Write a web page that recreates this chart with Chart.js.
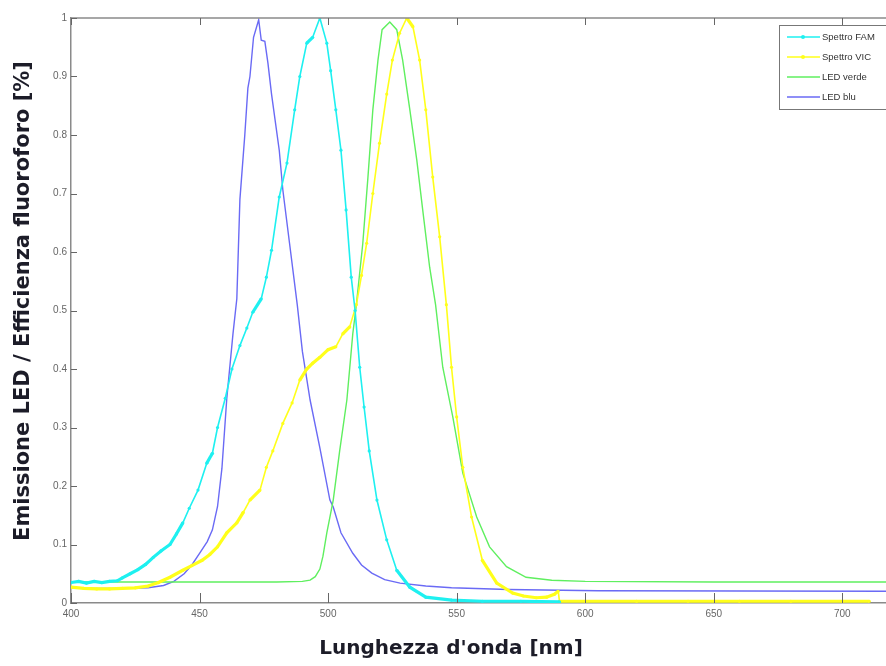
<!DOCTYPE html>
<html>
<head>
<meta charset="utf-8">
<title>Spettri LED / fluorofori</title>
<script src="https://cdn.jsdelivr.net/npm/chart.js@4.4.1/dist/chart.umd.min.js"></script>
<style>
  body { margin: 0; background: #fff; }
  #wrap { width: 886px; height: 666px; }
</style>
</head>
<body>
<div id="wrap"><canvas id="spectra" width="886" height="666"></canvas></div>
<script>
// wavelength (nm) / normalised value pairs, one array per curve
const famNm = [400, 403, 406, 409, 412, 415, 418, 420, 423, 426, 429, 432, 435, 438.5, 441, 443.5, 446, 449.4, 452.8, 455, 457, 460, 462.6, 465.7, 468.4, 470.7, 474, 476, 478, 481, 484, 487, 489, 491.7, 494, 496.8, 499.5, 501, 503, 505, 507, 509, 510.5, 512.3, 514, 516, 519, 522.8, 526.7, 531.8, 538, 548, 560, 575, 590];
const famVal = [0.035, 0.037, 0.034, 0.037, 0.035, 0.037, 0.038, 0.043, 0.05, 0.057, 0.066, 0.078, 0.089, 0.10, 0.118, 0.137, 0.162, 0.193, 0.239, 0.256, 0.30, 0.35, 0.40, 0.44, 0.47, 0.497, 0.52, 0.557, 0.603, 0.694, 0.752, 0.843, 0.90, 0.957, 0.967, 1.0, 0.957, 0.91, 0.843, 0.774, 0.672, 0.557, 0.50, 0.403, 0.335, 0.26, 0.176, 0.108, 0.056, 0.027, 0.01, 0.005, 0.003, 0.003, 0.002];

const vicNm = [400, 405, 410, 415, 420, 425, 430, 434, 438.5, 443.5, 447, 451, 454, 457, 460.6, 464.5, 467, 469.6, 473.5, 476, 478.5, 482.4, 486, 489, 491.7, 494, 496.8, 500, 503, 505.7, 508.4, 511, 513, 515, 517.4, 520, 522.8, 525, 527.8, 530.6, 533, 535.6, 538, 540.7, 543.4, 546, 548, 550, 552.4, 555.8, 560, 565.6, 571.8, 576, 581, 585, 588, 589.5, 590, 600, 620, 640, 660, 680, 700, 710.5];
const vicVal = [0.027, 0.025, 0.024, 0.024, 0.025, 0.026, 0.029, 0.035, 0.044, 0.056, 0.064, 0.073, 0.083, 0.096, 0.12, 0.137, 0.155, 0.176, 0.193, 0.232, 0.26, 0.307, 0.342, 0.381, 0.40, 0.41, 0.42, 0.433, 0.438, 0.46, 0.472, 0.51, 0.56, 0.615, 0.70, 0.786, 0.87, 0.928, 0.974, 1.0, 0.985, 0.928, 0.843, 0.728, 0.626, 0.51, 0.403, 0.318, 0.232, 0.147, 0.073, 0.034, 0.017, 0.012, 0.009, 0.01, 0.015, 0.02, 0.003, 0.003, 0.003, 0.003, 0.003, 0.003, 0.003, 0.003];

const greenNm = [400, 450, 480, 490, 493, 495, 496.8, 498, 499.5, 502, 504.5, 507.3, 509.6, 511, 513.5, 515.5, 517.4, 519.4, 521, 524, 526.7, 529, 531.8, 534.5, 536.8, 539.5, 541.8, 544.6, 548.5, 552.4, 557.8, 562.8, 569.4, 577, 587, 600, 650, 717];
const greenVal = [0.036, 0.036, 0.036, 0.037, 0.039, 0.045, 0.058, 0.08, 0.12, 0.176, 0.26, 0.347, 0.46, 0.51, 0.615, 0.728, 0.843, 0.928, 0.98, 0.993, 0.98, 0.928, 0.843, 0.757, 0.672, 0.574, 0.51, 0.403, 0.318, 0.222, 0.147, 0.096, 0.062, 0.044, 0.039, 0.037, 0.036, 0.036];

const blueNm = [400, 410, 420, 430, 436, 440, 444, 447, 450, 453, 455, 457, 458.7, 460.6, 463, 464.5, 465.7, 467.6, 468.8, 469.6, 471, 473, 474, 475.4, 476.6, 478, 481, 482.4, 485, 488, 490, 493, 496.8, 500.7, 502, 505, 509.6, 513, 517, 522, 528, 538, 548, 570, 605, 717];
const blueVal = [0.026, 0.025, 0.025, 0.026, 0.03, 0.037, 0.05, 0.065, 0.085, 0.105, 0.125, 0.165, 0.23, 0.35, 0.46, 0.52, 0.69, 0.80, 0.88, 0.90, 0.967, 0.997, 0.962, 0.96, 0.923, 0.87, 0.774, 0.706, 0.615, 0.51, 0.43, 0.347, 0.265, 0.176, 0.164, 0.12, 0.085, 0.065, 0.051, 0.04, 0.034, 0.029, 0.026, 0.023, 0.021, 0.02];

const seriesNames = ["Spettro FAM", "Spettro VIC", "LED verde", "LED blu"];
const xTicks = [400, 450, 500, 550, 600, 650, 700];
const yTicks = [0, 0.1, 0.2, 0.3, 0.4, 0.5, 0.6, 0.7, 0.8, 0.9, 1];

function pairs(xs, ys) {
  return xs.map((x, i) => ({ x: x, y: ys[i] }));
}

// flat stretches of the measured spectra look heavier (markers pile up)
function spectrumWidth(ctx) {
  const dx = ctx.p1.parsed.x - ctx.p0.parsed.x;
  const dy = Math.abs(ctx.p1.parsed.y - ctx.p0.parsed.y);
  return dy / dx < 0.008 ? 3.2 : 1.6;
}

const axisGray = "#8a8a8a";

// frame on top + inward tick marks, like the old matlab plots
const framePlugin = {
  id: "frame",
  afterDraw(chart) {
    const ctx = chart.ctx;
    const a = chart.chartArea;
    const sx = chart.scales.x;
    const sy = chart.scales.y;
    ctx.save();
    ctx.strokeStyle = axisGray;
    ctx.lineWidth = 1.5;
    ctx.beginPath();
    ctx.moveTo(a.left, a.top);
    ctx.lineTo(a.right, a.top);
    ctx.stroke();
    ctx.lineWidth = 1;
    ctx.strokeStyle = "#666";
    xTicks.forEach(v => {
      const px = Math.round(sx.getPixelForValue(v)) + 0.5;
      ctx.beginPath();
      ctx.moveTo(px, a.bottom);
      ctx.lineTo(px, a.bottom - 10);
      ctx.moveTo(px, a.top);
      ctx.lineTo(px, a.top + 7);
      ctx.stroke();
    });
    yTicks.forEach(v => {
      const py = Math.round(sy.getPixelForValue(v)) + 0.5;
      ctx.beginPath();
      ctx.moveTo(a.left, py);
      ctx.lineTo(a.left + 6, py);
      ctx.stroke();
    });
    ctx.restore();
  }
};

// axis titles
const titlesPlugin = {
  id: "axisTitles",
  afterDraw(chart) {
    const ctx = chart.ctx;
    ctx.save();
    ctx.fillStyle = "#1c1c28";
    ctx.textAlign = "center";
    ctx.textBaseline = "middle";
    ctx.font = "bold 20px 'DejaVu Sans', sans-serif";
    ctx.fillText("Lunghezza d'onda [nm]", 451, 649);
    ctx.font = "bold 21px 'DejaVu Sans', sans-serif";
    ctx.translate(24, 301);
    ctx.rotate(-Math.PI / 2);
    ctx.fillText("Emissione LED / Efficienza fluoroforo [%]", 0, 0);
    ctx.restore();
  }
};

// boxed legend in the top right corner of the plot
const boxLegendPlugin = {
  id: "boxLegend",
  afterDraw(chart) {
    const ctx = chart.ctx;
    const left = 779, top = 25, rowH = 20;
    ctx.save();
    ctx.fillStyle = "#fff";
    ctx.fillRect(left, top, 120, 84);
    ctx.strokeStyle = "#777";
    ctx.lineWidth = 1;
    ctx.strokeRect(left + 0.5, top + 0.5, 120, 84);
    ctx.font = "9.5px 'Liberation Sans Narrow', 'Liberation Sans', Arial, sans-serif";
    ctx.textBaseline = "middle";
    chart.data.datasets.forEach((ds, i) => {
      const y = top + 12 + i * rowH;
      ctx.strokeStyle = ds.borderColor;
      ctx.lineWidth = 1.6;
      ctx.beginPath();
      ctx.moveTo(left + 8, y);
      ctx.lineTo(left + 41, y);
      ctx.stroke();
      if (ds.pointRadius > 0) {
        ctx.fillStyle = ds.borderColor;
        ctx.beginPath();
        ctx.arc(left + 24, y, 2, 0, Math.PI * 2);
        ctx.fill();
      }
      ctx.fillStyle = "#333";
      ctx.fillText(ds.label, left + 43, y);
    });
    ctx.restore();
  }
};

const canvas = document.getElementById("spectra");
new Chart(canvas, {
  type: "line",
  data: {
    datasets: [
      {
        label: seriesNames[0],
        data: pairs(famNm, famVal),
        borderColor: "#1ef0f0",
        backgroundColor: "#1ef0f0",
        borderWidth: 1.6,
        pointRadius: 1.6,
        pointBorderWidth: 0,
        segment: { borderWidth: spectrumWidth },
      },
      {
        label: seriesNames[1],
        data: pairs(vicNm, vicVal),
        borderColor: "#ffff1a",
        backgroundColor: "#ffff1a",
        borderWidth: 1.6,
        pointRadius: 1.6,
        pointBorderWidth: 0,
        segment: { borderWidth: spectrumWidth },
      },
      {
        label: seriesNames[2],
        data: pairs(greenNm, greenVal),
        borderColor: "#5fef5f",
        borderWidth: 1.4,
        pointRadius: 0,
      },
      {
        label: seriesNames[3],
        data: pairs(blueNm, blueVal),
        borderColor: "#6a6af5",
        borderWidth: 1.4,
        pointRadius: 0,
      },
    ],
  },
  options: {
    responsive: false,
    animation: false,
    // plot runs right up to the canvas edge
    layout: { autoPadding: false, padding: { top: 18, right: 0, left: 0, bottom: 0 } },
    elements: { line: { tension: 0 } },
    plugins: {
      legend: { display: false },
      tooltip: { enabled: false },
    },
    scales: {
      x: {
        type: "linear",
        min: 400,
        max: 717,
        afterFit: (s) => { s.height = 63; s.paddingRight = 0; s.paddingLeft = 0; },
        border: { color: axisGray, width: 1.5 },
        grid: { display: false, drawTicks: false },
        ticks: {
          stepSize: 50,
          includeBounds: false,
          padding: 5,
          color: "#666",
          font: { family: "'Liberation Sans', Arial, sans-serif", size: 10 },
          maxRotation: 0,
        },
      },
      y: {
        min: 0,
        max: 1,
        afterFit: (s) => { s.width = 71; },
        border: { color: axisGray, width: 1.5 },
        grid: { display: false, drawTicks: false },
        ticks: {
          stepSize: 0.1,
          padding: 4,
          color: "#666",
          font: { family: "'Liberation Sans', Arial, sans-serif", size: 10 },
          callback: (v) => String(Number(v.toFixed(1))),
        },
      },
    },
  },
  plugins: [framePlugin, titlesPlugin, boxLegendPlugin],
});
</script>
</body>
</html>
